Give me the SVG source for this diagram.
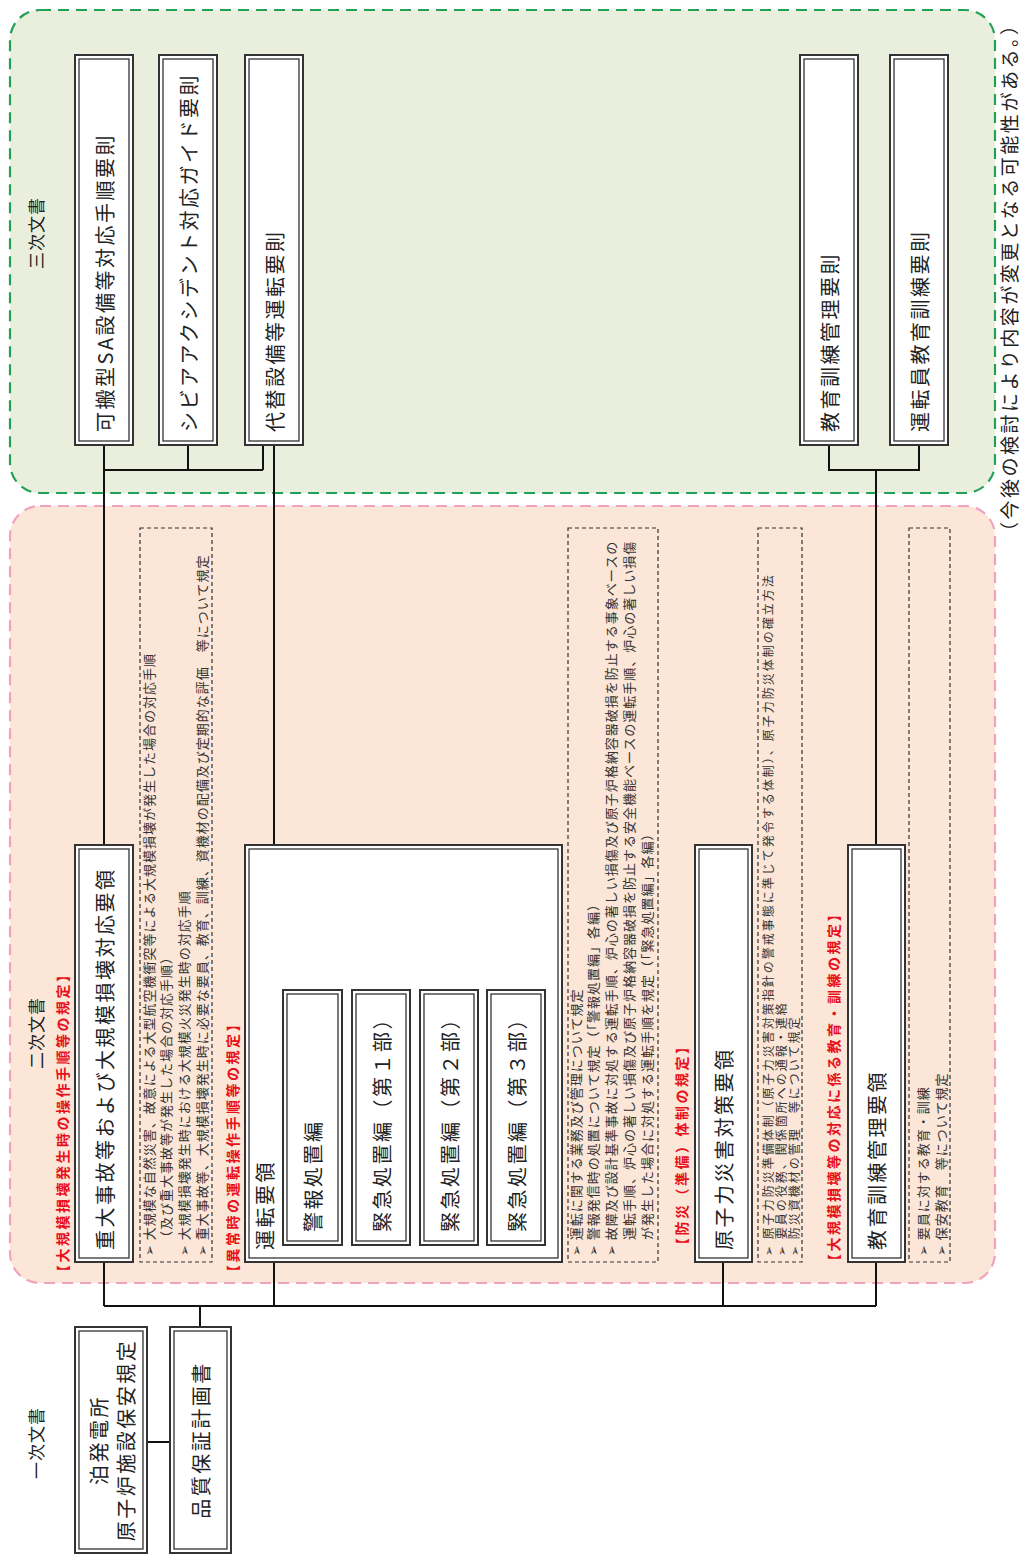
<svg xmlns="http://www.w3.org/2000/svg" width="1024" height="1558" viewBox="0 0 1024 1558">
<style>
.bg{fill:#fff}
.rg{fill:#e9efdc;stroke:#22a055;stroke-width:2.2;stroke-dasharray:11 7}
.rp{fill:#fbe6d8;stroke:#f0a3c0;stroke-width:2.2;stroke-dasharray:11 7}
.bo{fill:#fff;stroke:#333;stroke-width:2}
.bi{fill:none;stroke:#333;stroke-width:1.3}
.db{fill:none;stroke:#333;stroke-width:1.2;stroke-dasharray:4 3}
.t{font-family:"Noto Sans CJK JP","Noto Sans CJK SC",sans-serif;font-size:20px;letter-spacing:2.5px;fill:#222;dominant-baseline:central}
.s{font-family:"Noto Sans CJK JP",sans-serif;font-size:17px;letter-spacing:1px;fill:#222;dominant-baseline:central;text-anchor:middle}
.d{font-family:"Noto Sans CJK JP","DejaVu Sans",sans-serif;font-size:13px;letter-spacing:1px;fill:#333;dominant-baseline:central}
.d2{font-size:12px;letter-spacing:2px}
.r{font-family:"Noto Sans CJK JP",sans-serif;font-size:14px;font-weight:bold;letter-spacing:2.5px;fill:#e8101a;dominant-baseline:central}
.n{font-family:"Noto Sans CJK JP",sans-serif;font-size:19px;fill:#222;dominant-baseline:central}
.c{fill:none;stroke:#111;stroke-width:2}
</style>
<rect class="bg" x="0" y="0" width="1024" height="1558"/>
<g id="regions">
<rect class="rg" x="10" y="10" width="985" height="483" rx="30"/>
<rect class="rp" x="10" y="506" width="985" height="777" rx="30"/>
<text class="s" transform="translate(35,233) rotate(-90)">三次文書</text>
<text class="s" transform="translate(35,1033) rotate(-90)">二次文書</text>
<text class="s" transform="translate(35,1443) rotate(-90)">一次文書</text>
<text class="n" textLength="525" lengthAdjust="spacing" transform="translate(1008,541) rotate(-90)">（今後の検討により内容が変更となる可能性がある。）</text>
</g>
<g id="connectors">
<path class="c" d="M104 445V845M104 470H263M188 445V470M263 445V470M274 445V845"/>
<path class="c" d="M829 445V470H919V445M876 470V845"/>
<path class="c" d="M104 1262V1306M274 1262V1306M723 1262V1306M876 1262V1306M104 1306H876M200 1306V1327"/>
<path class="c" d="M147 1442H170"/>
</g>
<g id="t1"><rect class="bo" x="75" y="55" width="58" height="390"/><rect class="bi" x="79" y="59" width="50" height="382"/><text class="t" transform="translate(104,432) rotate(-90)">可搬型SA設備等対応手順要則</text></g>
<g id="t2"><rect class="bo" x="159" y="55" width="58" height="390"/><rect class="bi" x="163" y="59" width="50" height="382"/><text class="t" transform="translate(188,432) rotate(-90)">シビアアクシデント対応ガイド要則</text></g>
<g id="t3"><rect class="bo" x="245" y="55" width="58" height="390"/><rect class="bi" x="249" y="59" width="50" height="382"/><text class="t" transform="translate(274,432) rotate(-90)">代替設備等運転要則</text></g>
<g id="t4"><rect class="bo" x="800" y="55" width="58" height="390"/><rect class="bi" x="804" y="59" width="50" height="382"/><text class="t" transform="translate(829,432) rotate(-90)">教育訓練管理要則</text></g>
<g id="t5"><rect class="bo" x="890" y="55" width="58" height="390"/><rect class="bi" x="894" y="59" width="50" height="382"/><text class="t" transform="translate(919,432) rotate(-90)">運転員教育訓練要則</text></g>

<g id="s1"><rect class="bo" x="75" y="845" width="58" height="417"/><rect class="bi" x="79" y="849" width="50" height="409"/><text class="t" transform="translate(104,1250) rotate(-90)">重大事故等および大規模損壊対応要領</text></g>
<g id="s1-label"><text class="r" transform="translate(62,1279) rotate(-90)">【大規模損壊発生時の操作手順等の規定】</text></g>
<g id="s1-desc"><rect class="db" x="140" y="528" width="72" height="734"/>
<text class="d" transform="translate(148,1256) rotate(-90)">➢ 大規模な自然災害、故意による大型航空機衝突等による大規模損壊が発生した場合の対応手順</text>
<text class="d" transform="translate(165,1244) rotate(-90)">（及び重大事故等が発生した場合の対応手順）</text>
<text class="d" transform="translate(183,1256) rotate(-90)">➢ 大規模損壊発生時における大規模火災発生時の対応手順</text>
<text class="d" transform="translate(201,1256) rotate(-90)">➢ 重大事故等、大規模損壊発生時に必要な要員、教育、訓練、資機材の配備及び定期的な評価　等について規定</text>
</g>

<g id="s2"><rect class="bo" x="245" y="845" width="317" height="417"/><rect class="bi" x="249" y="849" width="309" height="409"/><text class="t" transform="translate(264,1250) rotate(-90)">運転要領</text>
<rect class="bo" x="283" y="990" width="59" height="255"/><rect class="bi" x="287" y="994" width="51" height="247"/><text class="t" transform="translate(312.5,1232) rotate(-90)">警報処置編</text>
<rect class="bo" x="352" y="990" width="58" height="255"/><rect class="bi" x="356" y="994" width="50" height="247"/><text class="t" transform="translate(381,1232) rotate(-90)">緊急処置編（第１部）</text>
<rect class="bo" x="420" y="990" width="58" height="255"/><rect class="bi" x="424" y="994" width="50" height="247"/><text class="t" transform="translate(449,1232) rotate(-90)">緊急処置編（第２部）</text>
<rect class="bo" x="487" y="990" width="58" height="255"/><rect class="bi" x="491" y="994" width="50" height="247"/><text class="t" transform="translate(516,1232) rotate(-90)">緊急処置編（第３部）</text>
</g>
<g id="s2-label"><text class="r" transform="translate(232,1279) rotate(-90)">【異常時の運転操作手順等の規定】</text></g>
<g id="s2-desc"><rect class="db" x="568" y="528" width="90" height="734"/>
<text class="d" transform="translate(575,1256) rotate(-90)">➢ 運転に関する業務及び管理について規定</text>
<text class="d" transform="translate(592,1256) rotate(-90)">➢ 警報発信時の処置について規定（「警報処置編」各編）</text>
<text class="d" transform="translate(610,1256) rotate(-90)">➢ 故障及び設計基準事故に対処する運転手順、炉心の著しい損傷及び原子炉格納容器破損を防止する事象ベースの</text>
<text class="d" transform="translate(628,1240) rotate(-90)">運転手順、炉心の著しい損傷及び原子炉格納容器破損を防止する安全機能ベースの運転手順、炉心の著しい損傷</text>
<text class="d" transform="translate(646,1240) rotate(-90)">が発生した場合に対処する運転手順を規定（「緊急処置編」各編）</text>
</g>

<g id="s3"><rect class="bo" x="695" y="845" width="57" height="417"/><rect class="bi" x="699" y="849" width="49" height="409"/><text class="t" transform="translate(723.5,1250) rotate(-90)">原子力災害対策要領</text></g>
<g id="s3-label"><text class="r" transform="translate(681,1252) rotate(-90)">【防災（準備）体制の規定】</text></g>
<g id="s3-desc"><rect class="db" x="758" y="528" width="44" height="734"/>
<text class="d d2" transform="translate(767,1256) rotate(-90)">➢ 原子力防災準備体制（原子力災害対策指針の警戒事態に準じて発令する体制）、原子力防災体制の確立方法</text>
<text class="d d2" transform="translate(780,1256) rotate(-90)">➢ 要員の役務、関係箇所への通報・連絡</text>
<text class="d d2" transform="translate(793,1256) rotate(-90)">➢ 防災資機材の管理　等について規定</text>
</g>

<g id="s4"><rect class="bo" x="848" y="845" width="57" height="417"/><rect class="bi" x="852" y="849" width="49" height="409"/><text class="t" transform="translate(876.5,1250) rotate(-90)">教育訓練管理要領</text></g>
<g id="s4-label"><text class="r" transform="translate(833,1268) rotate(-90)">【大規模損壊等の対応に係る教育・訓練の規定】</text></g>
<g id="s4-desc"><rect class="db" x="909" y="528" width="41" height="734"/>
<text class="d" transform="translate(922,1256) rotate(-90)">➢ 要員に対する教育・訓練</text>
<text class="d" transform="translate(940,1256) rotate(-90)">➢ 保安教育　等について規定</text>
</g>

<g id="p1"><rect class="bo" x="75" y="1327" width="72" height="226"/><rect class="bi" x="79" y="1331" width="64" height="218"/>
<text class="t" text-anchor="middle" transform="translate(98,1440) rotate(-90)">泊発電所</text>
<text class="t" text-anchor="middle" transform="translate(125,1440) rotate(-90)">原子炉施設保安規定</text></g>
<g id="p2"><rect class="bo" x="170" y="1327" width="61" height="226"/><rect class="bi" x="174" y="1331" width="53" height="218"/>
<text class="t" text-anchor="middle" transform="translate(200.5,1440) rotate(-90)">品質保証計画書</text></g>
</svg>
